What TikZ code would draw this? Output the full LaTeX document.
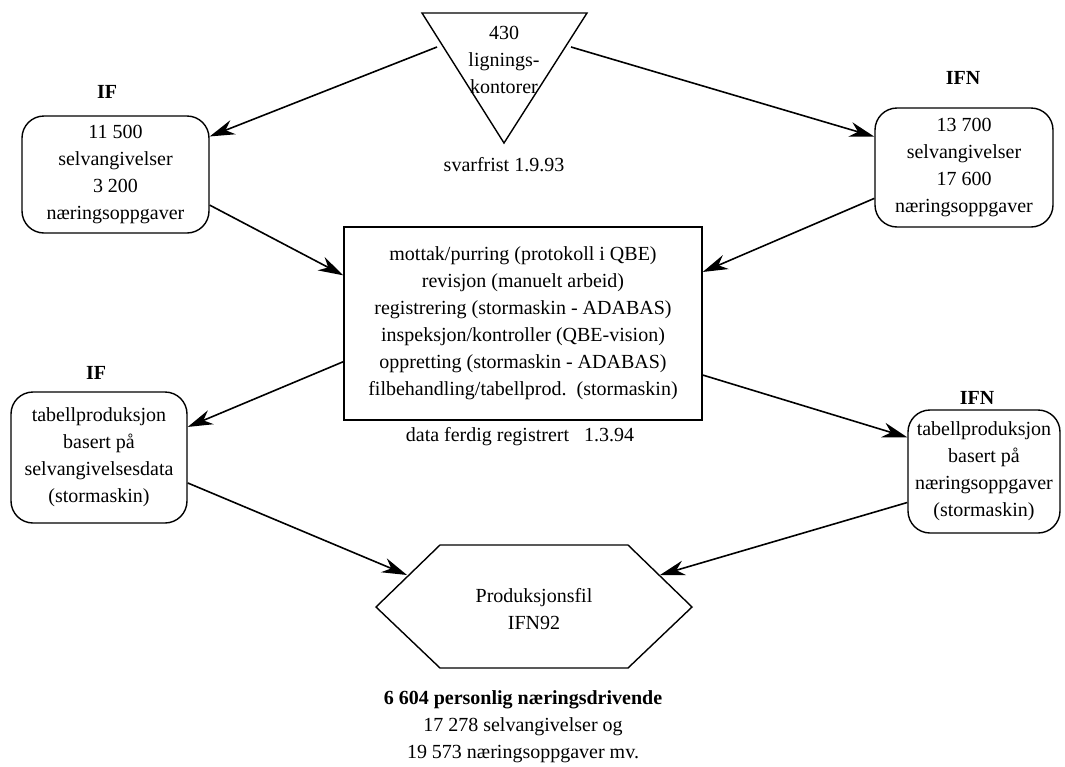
\documentclass[tikz,border=0pt]{standalone}
\usepackage{fontspec}
\setmainfont{Liberation Serif}
\usetikzlibrary{arrows.meta}
\begin{document}
\begin{tikzpicture}[x=0.5pt,y=-0.5pt,
    font=\fontsize{10}{13.5}\selectfont,
    rbox/.style={draw,line width=0.7pt,rounded corners=11pt,align=center,inner sep=0pt},
    pbox/.style={draw,line width=0.7pt,align=center,inner sep=0pt},
    head/.style={font=\fontsize{10}{13.5}\selectfont\bfseries},
    arr/.style={-{Stealth[length=12.5pt,width=7.5pt,inset=4pt]},line width=0.8pt}]
  \useasboundingbox (0,0) rectangle (1065,766);
  % kontorer
  \draw[line width=0.7pt] (422,13) -- (587,13) -- (504,143) -- cycle;
  \node[align=center] (kont) at (504,60) {430\\lignings-\\kontorer};
  \node (frist) at (504,165) {svarfrist 1.9.93};
  \coordinate (trl) at (437,47);
  \coordinate (trr) at (571,47);
  % innsending
  \node[head] (hifa) at (107,92) {IF};
  \node[rbox,minimum width=93.5pt,minimum height=58.5pt] (ifa) at (115.5,174.5)
    {11 500\\selvangivelser\\3 200\\næringsoppgaver};
  \node[head] (hifna) at (963,78) {IFN};
  \node[rbox,minimum width=89pt,minimum height=59.5pt] (ifna) at (964,167.5)
    {13 700\\selvangivelser\\17 600\\næringsoppgaver};
  % behandling
  \node[pbox,minimum width=179pt,minimum height=96.5pt] (proc) at (523,323.5)
    {mottak/purring (protokoll i QBE)\\revisjon (manuelt arbeid)\\
     registrering (stormaskin - ADABAS)\\inspeksjon/kontroller (QBE-vision)\\
     oppretting (stormaskin - ADABAS)\\filbehandling/tabellprod.\ \ (stormaskin)};
  \node (ferdig) at (520,437) {data ferdig registrert\ \ \ 1.3.94};
  % tabellproduksjon
  \node[head] (hifb) at (96,373) {IF};
  \node[rbox,minimum width=88pt,minimum height=65.5pt] (ifb) at (99,457.5)
    {tabellproduksjon\\basert på\\selvangivelsesdata\\(stormaskin)};
  \node[head] (hifnb) at (977,398) {IFN};
  \node[rbox,minimum width=76pt,minimum height=61.5pt] (ifnb) at (984,471.5)
    {tabellproduksjon\\basert på\\næringsoppgaver\\(stormaskin)};
  % produksjonsfil
  \draw[line width=0.7pt] (376,607) -- (440,545) -- (628,545) -- (692,607)
    -- (628,668) -- (440,668) -- cycle;
  \node[align=center] (fil) at (534,609) {Produksjonsfil\\IFN92};
  \coordinate (hxl) at (407,575);
  \coordinate (hxr) at (660,575);
  \node[align=center] (sum) at (523,727)
    {\textbf{6 604 personlig næringsdrivende}\\17 278 selvangivelser og\\19 573 næringsoppgaver mv.};
  \begin{scope}[arr]
    \draw (trl) to (ifa.22);
    \draw (trr) to (ifna.161);
    \draw (ifa.-18) to (proc.165);
    \draw (ifna.199) to (proc.16);
    \draw (proc.192) to (ifb.19);
    \draw (proc.-16) to (ifnb.156);
    \draw (ifb.-16) to (hxl);
    \draw (ifnb.202) to (hxr);
  \end{scope}
\end{tikzpicture}
\end{document}
